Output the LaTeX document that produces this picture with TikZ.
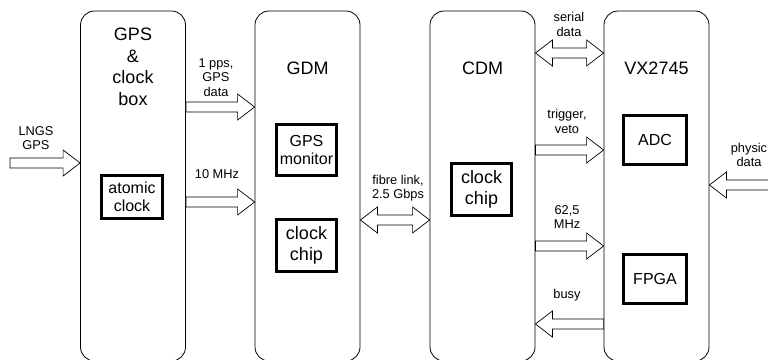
\documentclass[tikz,border=0pt]{standalone}
\usepackage{fontspec}
\setmainfont{Liberation Sans}
\usetikzlibrary{calc}
\newcommand\blockR[2]{\draw[blk] let \p1=(#1), \p2=(#2) in
  (\x1,\y1+5pt) -- (\x2-17pt,\y1+5pt) -- (\x2-17pt,\y1+13pt) -- (\x2,\y1) --
  (\x2-17pt,\y1-13pt) -- (\x2-17pt,\y1-5pt) -- (\x1,\y1-5pt) -- cycle;}
\newcommand\blockL[2]{\draw[blk] let \p1=(#1), \p2=(#2) in
  (\x1,\y1+5pt) -- (\x2+17pt,\y1+5pt) -- (\x2+17pt,\y1+13pt) -- (\x2,\y1) --
  (\x2+17pt,\y1-13pt) -- (\x2+17pt,\y1-5pt) -- (\x1,\y1-5pt) -- cycle;}
\newcommand\blockD[2]{\draw[blk] let \p1=(#1), \p2=(#2) in
  (\x1,\y1) -- (\x1+17pt,\y1-13pt) -- (\x1+17pt,\y1-5pt) -- (\x2-17pt,\y1-5pt) --
  (\x2-17pt,\y1-13pt) -- (\x2,\y1) -- (\x2-17pt,\y1+13pt) -- (\x2-17pt,\y1+5pt) --
  (\x1+17pt,\y1+5pt) -- (\x1+17pt,\y1+13pt) -- cycle;}
\begin{document}
\begin{tikzpicture}[x=1pt,y=-1pt,
  bigbox/.style={draw, rounded corners=14pt, line width=0.8pt, minimum width=105pt, minimum height=350pt, inner sep=0pt},
  inbox/.style={draw, line width=2.8pt, inner sep=0pt, align=center},
  lbl/.style={font=\fontsize{12.8}{14.5}\selectfont, align=center, inner sep=0pt},
  ttl/.style={font=\fontsize{18}{21.5}\selectfont, align=center, inner sep=0pt},
  inl/.style={font=\fontsize{16}{18}\selectfont},
  inb/.style={font=\fontsize{18}{21.5}\selectfont},
  blk/.style={draw, line width=0.7pt, fill=white, line join=miter}]
\useasboundingbox (0,0) rectangle (768,359);
% main boxes
\node[bigbox] (gps) at (133,186) {};
\node[bigbox] (gdm) at (307.5,186) {};
\node[bigbox] (cdm) at (482.5,186) {};
\node[bigbox] (vx) at (656.5,186) {};
% titles
\node[ttl] (tgps) at (133,67) {GPS\\\&\\clock\\box};
\node[ttl] (tgdm) at (307.5,68) {GDM};
\node[ttl] (tcdm) at (482.5,68) {CDM};
\node[ttl] (tvx) at (656.5,68) {VX2745};
% inner boxes
\node[inbox, inl, minimum width=61pt, minimum height=43pt] (atomic) at (132,197) {atomic\\clock};
\node[inbox, inl, minimum width=60pt, minimum height=51pt] (mon) at (306.5,150) {GPS\\monitor};
\node[inbox, inb, minimum width=60pt, minimum height=52pt] (chip1) at (306.5,245.5) {clock\\chip};
\node[inbox, inb, minimum width=60pt, minimum height=52pt] (chip2) at (481.5,189.5) {clock\\chip};
\node[inbox, inl, minimum width=63pt, minimum height=49pt] (adc) at (655,140) {ADC};
\node[inbox, inl, minimum width=63pt, minimum height=49pt] (fpga) at (655,279) {FPGA};
% arrow anchor coordinates
\coordinate (lngs) at (10,163);
\coordinate (ya) at (0,107);
\coordinate (yb) at (0,202);
\coordinate (yc) at (0,220);
\coordinate (yd) at (0,53);
\coordinate (ye) at (0,150);
\coordinate (yf) at (0,246);
\coordinate (yg) at (0,324);
\coordinate (phys) at (775,185);
% arrows
\blockR{lngs}{gps.west |- lngs}
\blockR{gps.east |- ya}{gdm.west |- ya}
\blockR{gps.east |- yb}{gdm.west |- yb}
\blockD{gdm.east |- yc}{cdm.west |- yc}
\blockD{cdm.east |- yd}{vx.west |- yd}
\blockR{cdm.east |- ye}{vx.west |- ye}
\blockR{cdm.east |- yf}{vx.west |- yf}
\blockL{vx.west |- yg}{cdm.east |- yg}
\blockL{phys}{vx.east |- phys}
% labels
\node[lbl] (llngs) at (36,138) {LNGS\\GPS};
\node[lbl] (l1pps) at (216,77.5) {1 pps,\\GPS\\data};
\node[lbl] (l10) at (217,174) {10 MHz};
\node[lbl] (lfib) at (398,188) {fibre link,\\2.5 Gbps};
\node[lbl] (lser) at (569,24.5) {serial\\data};
\node[lbl] (ltrig) at (567,121.5) {trigger,\\veto};
\node[lbl] (l625) at (567,217) {62,5\\MHz};
\node[lbl] (lbusy) at (567,295) {busy};
\node[lbl] (lphys) at (749,155) {physic\\data};
\end{tikzpicture}
\end{document}
